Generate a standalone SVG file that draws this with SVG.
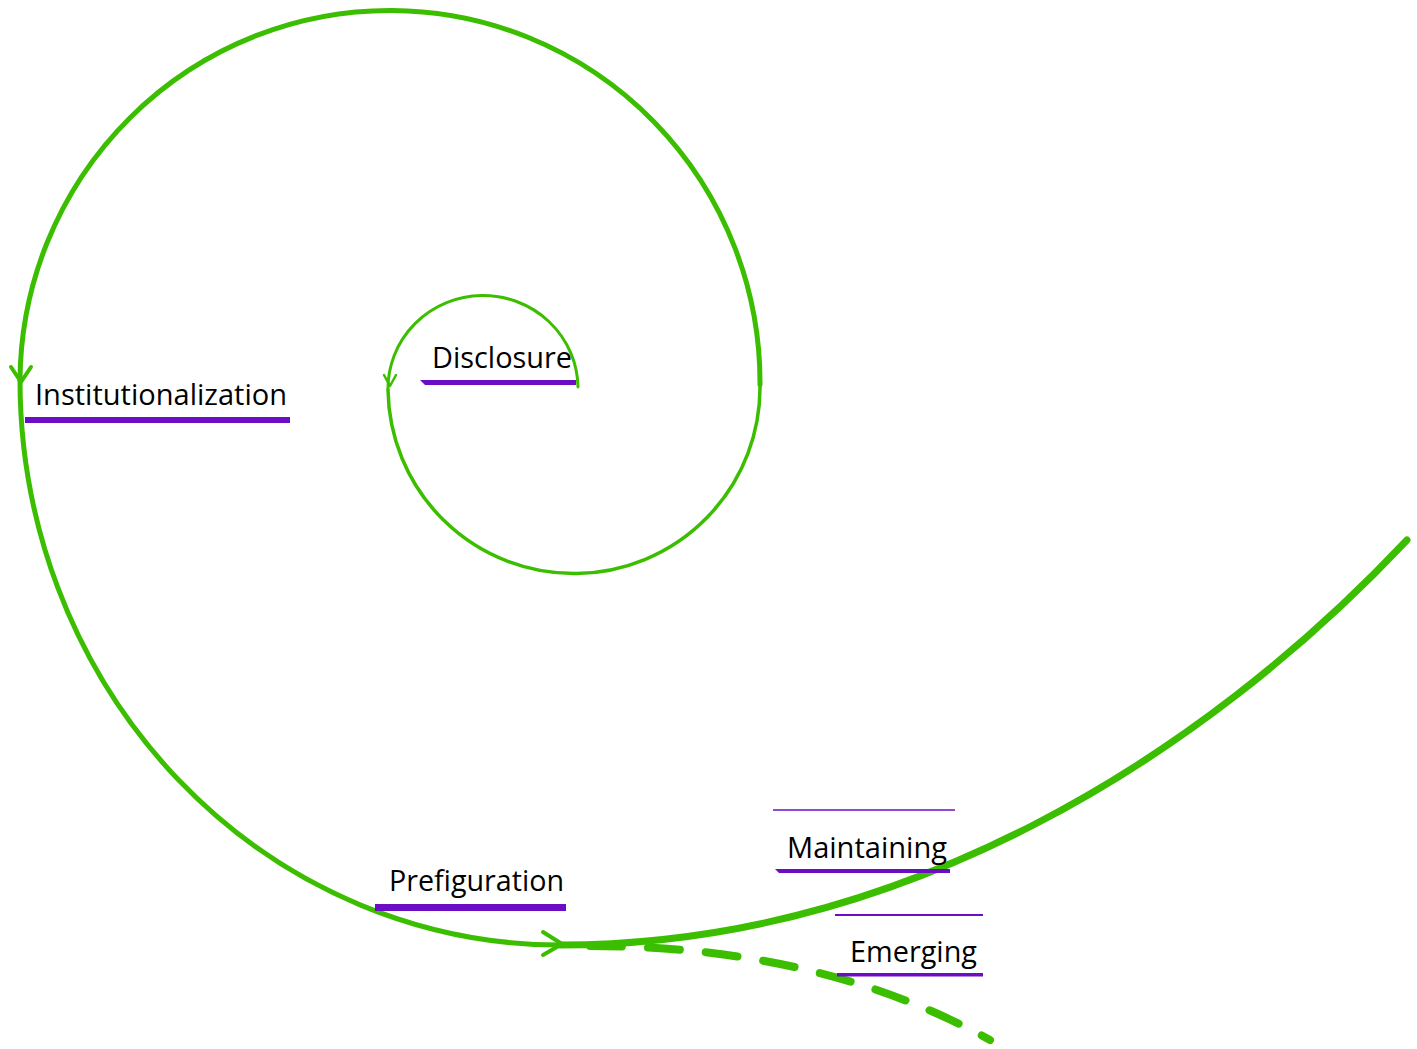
<svg xmlns="http://www.w3.org/2000/svg" width="1417" height="1049" viewBox="0 0 1417 1049">
<style>
.sp{fill:none;stroke:#3cbe00;stroke-linecap:round;stroke-linejoin:round}
.ul{fill:#6a0dc4}
.tl{stroke:#6a0dc4;fill:none}
.lb{font-family:"Open Sans","Liberation Sans",sans-serif;font-size:29px;fill:#000}
</style>
<rect width="1417" height="1049" fill="#fff"/>
<g id="connectors">
<path class="sp" stroke-width="3" d="M578,387 A95,93 0 0 0 388,390"/>
<path class="sp" stroke-width="3.5" d="M388,390 A186,186 0 0 0 760,385"/>
<path class="sp" stroke-width="5" d="M760,385 A370,372 0 0 0 20,380"/>
<path class="sp" stroke-width="5" d="M20,380 A540,565 0 0 0 560,945"/>
<path class="sp" stroke-width="7" d="M560,945 C900,945 1200,760 1407,540"/>
<path class="sp" stroke-width="8" stroke-linecap="butt" stroke-dasharray="32,26" d="M590,946 C720,946 860,968 990,1040"/>
<path class="sp" stroke-width="2.5" d="M384,375 L390,386 L396,375"/>
<path class="sp" stroke-width="4" d="M11,367 L21,382 L31,367"/>
<path class="sp" stroke-width="4" d="M543,932 L562,944 L543,955"/>
</g>
<g id="disclosure">
<polygon class="ul" points="420,380 576,380 576,385 425,385"/>
<text class="lb" x="432" y="368" textLength="140" lengthAdjust="spacingAndGlyphs">Disclosure</text>
</g>
<g id="institutionalization">
<rect class="ul" x="25" y="417" width="265" height="6"/>
<text class="lb" x="35" y="405" textLength="252" lengthAdjust="spacingAndGlyphs">Institutionalization</text>
</g>
<g id="prefiguration">
<rect class="ul" x="375" y="904" width="191" height="7"/>
<text class="lb" x="389" y="891" textLength="175" lengthAdjust="spacingAndGlyphs">Prefiguration</text>
</g>
<g id="maintaining">
<line class="tl" x1="773" y1="810" x2="955" y2="810" stroke-width="1.5"/>
<polygon class="ul" points="775,869 950,869 950,873 779,873"/>
<text class="lb" x="787" y="858" textLength="160" lengthAdjust="spacingAndGlyphs">Maintaining</text>
</g>
<g id="emerging">
<line class="tl" x1="835" y1="915" x2="983" y2="915" stroke-width="2"/>
<rect class="ul" x="837" y="973" width="146" height="3.5"/>
<text class="lb" x="850" y="962" textLength="127" lengthAdjust="spacingAndGlyphs">Emerging</text>
</g>
</svg>
